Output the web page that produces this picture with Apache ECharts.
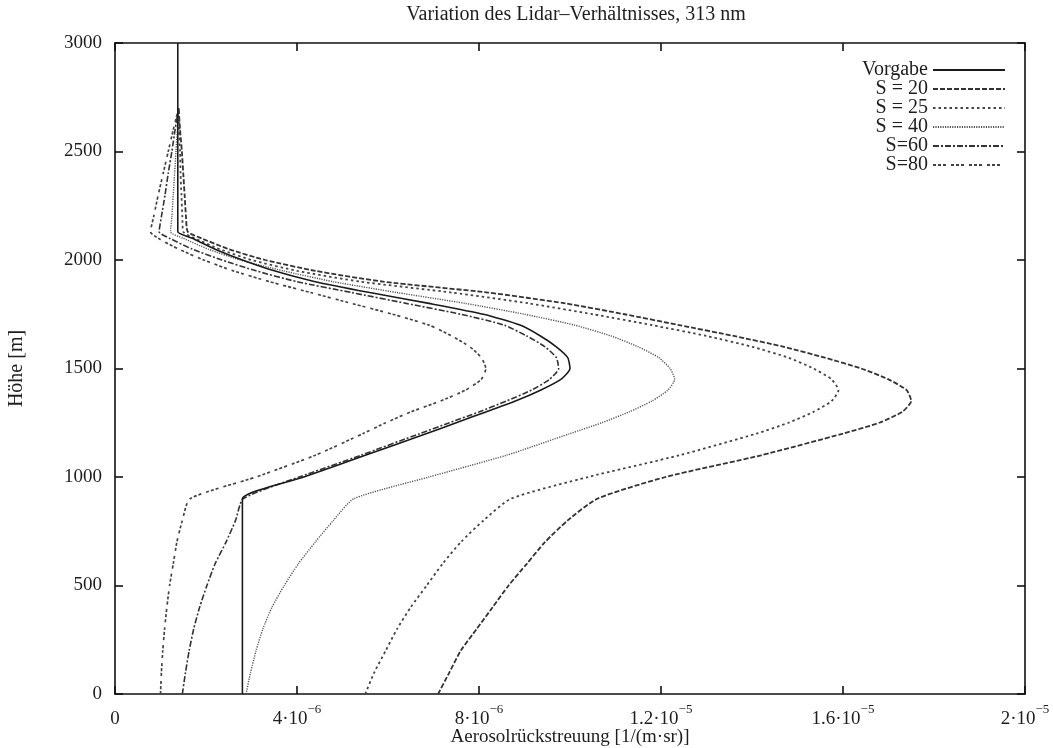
<!DOCTYPE html>
<html><head><meta charset="utf-8">
<script src="https://cdn.jsdelivr.net/npm/echarts@6/dist/echarts.min.js"></script>
<style>html,body{margin:0;padding:0;background:#fff}#c{width:1053px;height:748px}</style>
</head><body><div id="c"></div>
<script>
// Heights [m]
const heights = [0,100,200,300,400,500,600,700,800,900,
  1000,1100,1200,1250,1300,1350,1400,1450,1500,1550,1600,1650,1700,1750,1800,1850,1900,1950,2000,2050,2100,2130,
  2200,2300,2400,2500,2600,2700,2800,2900,3000];
// Aerosol backscatter in units of 1e-6 1/(m sr)
const vorgabe = [2.8,2.8,2.8,2.8,2.8,2.8,2.8,2.8,2.8,2.8,
  4.15,5.5,6.85,7.5,8.15,8.8,9.35,9.8,10.0,9.95,9.7,9.35,8.9,8.1,6.9,5.6,4.4,3.5,2.8,2.2,1.7,1.38,
  1.38,1.38,1.38,1.38,1.38,1.38,1.38,1.38,1.38];
const s20 = [7.1,7.35,7.6,7.95,8.3,8.65,9.05,9.45,9.95,10.6,
  12.1,14.2,16.0,16.8,17.3,17.5,17.4,17.0,16.4,15.6,14.7,13.6,12.4,11.2,9.9,8.2,5.9,4.4,3.3,2.5,1.9,1.6,
  1.56,1.53,1.5,1.47,1.43,1.4];
const s25 = [5.5,5.7,5.95,6.2,6.5,6.85,7.2,7.6,8.1,8.7,
  10.4,12.4,14.1,14.8,15.35,15.75,15.9,15.75,15.35,14.8,14.0,13.0,11.8,10.5,9.1,7.4,5.4,4.0,3.0,2.3,1.75,1.5,
  1.48,1.46,1.44,1.43,1.41,1.4];
const s40 = [2.88,2.98,3.1,3.25,3.45,3.72,4.03,4.4,4.8,5.25,
  6.9,8.6,10.0,10.7,11.3,11.8,12.15,12.3,12.2,11.95,11.5,10.9,10.1,9.0,7.7,6.2,4.8,3.7,2.75,2.05,1.5,1.22,
  1.25,1.28,1.31,1.34,1.37,1.4];
const s60 = [1.48,1.55,1.63,1.73,1.86,2.02,2.2,2.44,2.65,2.82,
  4.05,5.4,6.7,7.35,8.0,8.6,9.15,9.55,9.75,9.7,9.45,9.05,8.55,7.6,6.4,5.2,4.0,3.1,2.35,1.7,1.2,0.97,
  1.02,1.1,1.17,1.25,1.32,1.4];
const s80 = [1.0,1.02,1.05,1.09,1.14,1.2,1.28,1.36,1.48,1.65,
  3.1,4.4,5.45,5.95,6.5,7.15,7.7,8.05,8.15,8.05,7.8,7.4,6.9,6.1,5.2,4.3,3.4,2.6,1.95,1.4,0.95,0.78,
  0.85,0.95,1.06,1.17,1.28,1.4];

const seriesNames = ['Vorgabe','S = 20','S = 25','S = 40','S=60','S=80'];
const xTickValues = [0,4,8,12,16,20];
const xTickMant = ['0','4','8','1.2','1.6','2'];
const xTickExp = ['','−6','−6','−5','−5','−5'];
const yTickValues = [0,500,1000,1500,2000,2500,3000];

const FONT = 'Liberation Serif';
const TXT = '#1e1e1e';
const styles = [
  {type:'solid', width:1.6, color:'#1a1a1a'},
  {type:[5,2], width:1.8, color:'#333'},
  {type:[2.5,3], width:1.8, color:'#444'},
  {type:[1.2,1.2], width:1.4, color:'#555'},
  {type:[6,2,2,2], width:1.6, color:'#333'},
  {type:[3,2,3,2,3,5], width:1.7, color:'#444'}
];
const allData = [vorgabe, s20, s25, s40, s60, s80];

function pairs(xs){ return xs.map((x,i)=>[x, heights[i]]); }

const series = allData.map((d,i)=>({
  name: seriesNames[i], type:'line', data: pairs(d), symbol:'none', smooth:0.2,
  xAxisIndex:0, yAxisIndex:0,
  lineStyle: styles[i], itemStyle:{color: styles[i].color}, z: 3 + (i===0?1:0)
}));

const axisLineStyle = {color:'#111', width:1.6};
const chart = echarts.init(document.getElementById('c'), null, {renderer:'canvas'});
chart.setOption({
  animation:false,
  backgroundColor:'#fff',
  title:{text:'Variation des Lidar–Verhältnisses, 313 nm', left:571, textAlign:'center', top:0,
    textStyle:{fontFamily:FONT, fontSize:20, fontWeight:'normal', color:TXT}},
  grid:{left:115, right:28, top:43, bottom:54, containLabel:false, outerBoundsMode:'none'},
  legend:{orient:'vertical', right:42, top:55, align:'right', itemWidth:72, itemHeight:12, itemGap:-1,
    itemStyle:{color:'rgba(0,0,0,0)', borderWidth:0, opacity:0},
    textStyle:{fontFamily:FONT, fontSize:20, lineHeight:17, color:TXT, width:80, align:'right'},
    data: seriesNames},
  xAxis:[{
    type:'value', min:0, max:20, interval:4, position:'bottom',
    axisLine:{onZero:false, lineStyle:axisLineStyle}, axisTick:{inside:true, length:8, lineStyle:axisLineStyle},
    splitLine:{show:false},
    axisLabel:{margin:9, fontFamily:FONT, color:TXT,
      formatter:(v)=>{ const i = xTickValues.indexOf(v); if(i<0) return ''; if(!xTickExp[i]) return '{b|'+xTickMant[i]+'}'; return '{b|'+xTickMant[i]+'·10}{s|'+xTickExp[i]+'}'; },
      rich:{b:{fontFamily:FONT, fontSize:19, color:TXT, lineHeight:26, verticalAlign:'bottom'},
            s:{fontFamily:FONT, fontSize:13, color:TXT, lineHeight:26, verticalAlign:'top'}}},
    name:'Aerosolrückstreuung [1/(m·sr)]', nameLocation:'middle', nameGap:34, nameMoveOverlap:false,
    nameTextStyle:{fontFamily:FONT, fontSize:19, color:TXT}
  },{
    type:'value', min:0, max:20, interval:4, position:'top',
    axisLine:{onZero:false, lineStyle:axisLineStyle}, axisTick:{inside:true, length:8, lineStyle:axisLineStyle},
    axisLabel:{show:false}, splitLine:{show:false}
  }],
  yAxis:[{
    type:'value', min:0, max:3000, interval:500, position:'left',
    axisLine:{onZero:false, lineStyle:axisLineStyle}, axisTick:{inside:true, length:8, lineStyle:axisLineStyle},
    splitLine:{show:false},
    axisLabel:{margin:13, fontFamily:FONT, fontSize:19, color:TXT, formatter:(v)=> yTickValues.indexOf(v)>=0 ? String(v) : ''},
    name:'Höhe [m]', nameLocation:'middle', nameGap:88, nameRotate:90, nameMoveOverlap:false,
    nameTextStyle:{fontFamily:FONT, fontSize:20, color:TXT}
  },{
    type:'value', min:0, max:3000, interval:500, position:'right',
    axisLine:{onZero:false, lineStyle:axisLineStyle}, axisTick:{inside:true, length:8, lineStyle:axisLineStyle},
    axisLabel:{show:false}, splitLine:{show:false}
  }],
  series: series
});
</script></body></html>
